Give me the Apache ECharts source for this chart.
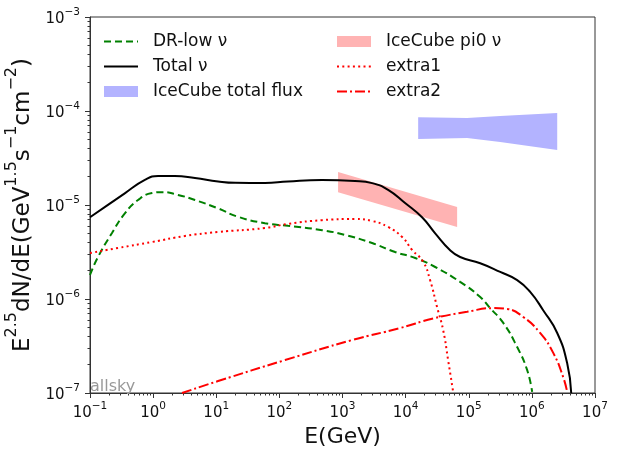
<!DOCTYPE html>
<html>
<head>
<meta charset="utf-8">
<script src="https://cdn.jsdelivr.net/npm/echarts@6/dist/echarts.min.js"></script>
<style>
  html, body { margin: 0; padding: 0; background: #fff; }
  #main { width: 618px; height: 452px; }
</style>
</head>
<body>
<div id="main"></div>
<script>
// 数据: [E(GeV), E^2.5 dN/dE]
var totalNu = [
    [0.1, 7.4e-6], [0.36, 1.34e-5], [0.74, 1.85e-5], [1.2, 2.04e-5],
    [2.2, 2.04e-5], [4.6, 1.94e-5], [10.7, 1.78e-5], [20, 1.72e-5], [59, 1.71e-5],
    [137, 1.78e-5], [475, 1.84e-5], [1580, 1.80e-5], [2940, 1.71e-5], [5280, 1.45e-5],
    [9800, 1.05e-5], [1.82e4, 7.4e-6], [2.94e4, 5.0e-6], [5.07e4, 3.3e-6], [7.3e4, 2.8e-6],
    [1.52e5, 2.4e-6], [3.15e5, 1.94e-6], [5.85e5, 1.59e-6], [9.4e5, 1.19e-6], [1.51e6, 7.6e-7],
    [2.52e6, 4.35e-7], [3.62e6, 2.08e-7], [4.2e6, 1.0e-7]
];
var drLow = [
    [0.1, 1.8e-6], [0.134, 2.8e-6], [0.223, 5.04e-6], [0.359, 8.2e-6], [0.577, 1.13e-5],
    [0.96, 1.34e-5], [1.38, 1.37e-5], [2.48, 1.28e-5], [4.6, 1.13e-5], [10.7, 9.2e-6],
    [22, 7.5e-6], [59, 6.4e-6], [137, 6.0e-6], [475, 5.4e-6], [1100, 4.8e-6],
    [2940, 3.94e-6], [6820, 3.16e-6], [1.42e4, 2.73e-6], [2.94e4, 2.19e-6], [7.3e4, 1.52e-6],
    [1.52e5, 1.05e-6], [2.18e5, 8.0e-7], [3.5e5, 5.6e-7], [5.85e5, 3.08e-7], [8.4e5, 1.76e-7],
    [1.01e6, 1.03e-7]
];
var extra1 = [
    [0.1, 3.08e-6], [0.278, 3.49e-6], [0.96, 4.04e-6], [3.2, 4.68e-6], [10.7, 5.16e-6],
    [59, 5.69e-6], [137, 6.3e-6], [475, 6.9e-6], [1580, 7.1e-6], [2940, 6.76e-6],
    [5280, 5.84e-6], [8800, 4.57e-6], [1.27e4, 3.32e-6], [1.89e4, 2.5e-6], [2.44e4, 1.59e-6],
    [3.15e4, 8.2e-7], [3.93e4, 4.68e-7], [4.71e4, 2.24e-7], [5.66e4, 1.03e-7]
];
var extra2 = [
    [2.87, 1.0e-7], [10.7, 1.34e-7], [123, 2.24e-7], [1420, 3.66e-7], [8180, 4.91e-7],
    [2.73e4, 6.21e-7], [9.4e4, 7.3e-7], [2.44e5, 8.0e-7], [4.06e5, 7.83e-7], [7.3e5, 6.44e-7],
    [1.35e6, 4.35e-7], [2.18e6, 2.67e-7], [3.13e6, 1.48e-7], [3.62e6, 1.03e-7]
];
// 两个带状区域
var pi0E = [851, 6.55e4];
var pi0Hi = [2.25e-5, 9.5e-6];
var pi0Lo = [1.37e-5, 5.84e-6];
var iceE = [1.58e4, 9.4e4, 3.15e5, 2.52e6];
var iceHi = [8.6e-5, 8.4e-5, 8.85e-5, 9.5e-5];
var iceLo = [5.04e-5, 5.16e-5, 4.68e-5, 3.85e-5];
// 刻度
var xTicks = [1e-1, 1, 1e1, 1e2, 1e3, 1e4, 1e5, 1e6, 1e7];
var yTicks = [1e-7, 1e-6, 1e-5, 1e-4, 1e-3];

var FONT = 'DejaVu Sans';
var AXIS_COLOR = '#333';

function minorsOf(majors) {
    var out = [];
    for (var i = 0; i < majors.length - 1; i++) {
        for (var k = 2; k <= 9; k++) out.push(majors[i] * k);
    }
    return out;
}

function powLabel(v) {
    var e = Math.round(Math.log10(v));
    return '{b|10}{s|' + String(e).replace('-', '\u2212') + '}';
}

var tickRich = {
    b: {fontSize: 15, fontFamily: FONT, color: '#111', lineHeight: 20, verticalAlign: 'bottom'},
    s: {fontSize: 10.5, fontFamily: FONT, color: '#111', verticalAlign: 'top'}
};

function bandSeries(name, color, es, hi, lo) {
    return {
        name: name,
        type: 'custom',
        z: 1,
        itemStyle: {color: color},
        data: [[es[0], hi[0]]],
        renderItem: function (params, api) {
            var pts = [];
            for (var i = 0; i < es.length; i++) pts.push(api.coord([es[i], hi[i]]));
            for (var j = es.length - 1; j >= 0; j--) pts.push(api.coord([es[j], lo[j]]));
            return {type: 'polygon', shape: {points: pts}, style: {fill: color}};
        }
    };
}

function lineSeries(name, data, color, type) {
    return {
        name: name,
        type: 'line',
        z: 3,
        data: data,
        symbol: 'none',
        smooth: 0.5,
        clip: true,
        lineStyle: {color: color, width: 2, type: type},
        itemStyle: {color: color}
    };
}

var legendText = {fontFamily: FONT, fontSize: 17, color: '#111', padding: [0, 0, 0, 10]};
var noSymbol = {opacity: 0};

var myChart = echarts.init(document.getElementById('main'));
myChart.setOption({
    animation: false,
    backgroundColor: '#fff',
    grid: {
        left: 90, right: 23, top: 17, bottom: 59, outerBoundsMode: 'none',
        show: true, borderColor: AXIS_COLOR, borderWidth: 1, backgroundColor: 'transparent'
    },
    legend: [{
        orient: 'vertical', left: 103, top: 33, padding: 0, itemWidth: 34, itemHeight: 11, itemGap: 8,
        textStyle: legendText,
        data: [{name: 'DR-low ν', itemStyle: noSymbol}, {name: 'Total ν', itemStyle: noSymbol},
            {name: 'IceCube total flux', icon: 'rect'}]
    }, {
        orient: 'vertical', left: 336, top: 33, padding: 0, itemWidth: 34, itemHeight: 11, itemGap: 8,
        textStyle: legendText,
        data: [{name: 'IceCube pi0 ν', icon: 'rect'}, {name: 'extra1', itemStyle: noSymbol},
            {name: 'extra2', itemStyle: noSymbol}]
    }],
    xAxis: [{
        type: 'log', logBase: 10, min: 0.1, max: 1e7,
        name: 'E(GeV)', nameLocation: 'middle', nameGap: 30,
        nameTextStyle: {fontFamily: FONT, fontSize: 22, color: '#111'},
        axisLine: {show: true, lineStyle: {color: AXIS_COLOR}},
        axisTick: {show: true, inside: false, length: 5, customValues: xTicks, lineStyle: {color: AXIS_COLOR}},
        axisLabel: {customValues: xTicks, margin: 8, formatter: powLabel, rich: tickRich},
        splitLine: {show: false}
    }, {
        type: 'log', logBase: 10, min: 0.1, max: 1e7, position: 'bottom',
        axisLine: {show: false},
        axisTick: {show: true, inside: false, length: 2.5, customValues: minorsOf(xTicks), lineStyle: {color: AXIS_COLOR}},
        axisLabel: {show: false},
        splitLine: {show: false}
    }],
    yAxis: [{
        type: 'log', logBase: 10, min: 1e-7, max: 1e-3,
        name: '{m|E}{s|2.5}{m|dN/dE(GeV}{s|1.5}{m|s}{s|\u22121}{m|cm}{s|\u22122}{m|)}',
        nameLocation: 'middle', nameGap: 48,
        nameTextStyle: {
            rich: {
                m: {fontFamily: FONT, fontSize: 23, color: '#111', lineHeight: 31, verticalAlign: 'bottom'},
                s: {fontFamily: FONT, fontSize: 16, color: '#111', verticalAlign: 'top'}
            }
        },
        axisLine: {show: true, lineStyle: {color: AXIS_COLOR}},
        axisTick: {show: true, inside: false, length: 5, customValues: yTicks, lineStyle: {color: AXIS_COLOR}},
        axisLabel: {customValues: yTicks, margin: 10, formatter: powLabel, rich: tickRich},
        splitLine: {show: false}
    }, {
        type: 'log', logBase: 10, min: 1e-7, max: 1e-3, position: 'left',
        axisLine: {show: false},
        axisTick: {show: true, inside: false, length: 2.5, customValues: minorsOf(yTicks), lineStyle: {color: AXIS_COLOR}},
        axisLabel: {show: false},
        splitLine: {show: false}
    }],
    graphic: [{
        type: 'text', left: 90, top: 379, z: 10,
        style: {text: 'allsky', fontFamily: FONT, fontSize: 16, fill: '#999'}
    }],
    series: [
        bandSeries('IceCube total flux', '#b3b3ff', iceE, iceHi, iceLo),
        bandSeries('IceCube pi0 ν', '#ffb3b3', pi0E, pi0Hi, pi0Lo),
        lineSeries('DR-low ν', drLow, '#008000', [7, 4]),
        lineSeries('Total ν', totalNu, '#000', 'solid'),
        lineSeries('extra1', extra1, '#ff0000', [2, 3.3]),
        lineSeries('extra2', extra2, '#ff0000', [10, 3, 2, 3])
    ]
});
</script>
</body>
</html>
